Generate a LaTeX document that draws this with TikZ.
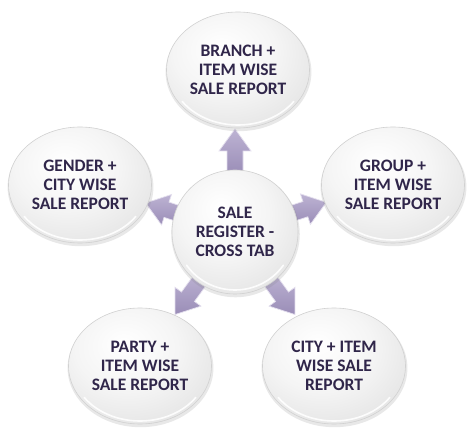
\documentclass[tikz,border=0pt]{standalone}
\usepackage{fontspec}
\setmainfont{Carlito}
\usetikzlibrary{calc,shadows,shapes.geometric}
\definecolor{txt}{HTML}{30264A}
\definecolor{lavA}{HTML}{BDB3D3}
\definecolor{lavB}{HTML}{9A8DB7}
\definecolor{lavE}{HTML}{E4DFEE}
\pgfdeclareradialshading{glossy}{\pgfpoint{-6bp}{10bp}}{%
  color(0bp)=(white);
  color(18bp)=(white!96!black);
  color(38bp)=(white!88!black);
  color(52bp)=(white!79!black);
  color(62bp)=(white!75!black);
  color(80bp)=(white!73!black)}
\tikzset{
  ball/.style={ellipse, shading=glossy, draw=white!82!black, line width=0.6pt,
    drop shadow={opacity=0.18, shadow xshift=0.5pt, shadow yshift=-2pt, shadow scale=1.02},
    align=center, text=txt, font=\bfseries\fontsize{17.5}{18.7}\selectfont, inner sep=0pt},
  outer/.style={ball, minimum width=143pt, minimum height=116pt},
  hub/.style={ball, minimum width=126pt, minimum height=124pt},
  pics/blockarrow/.style={code={
    \shade[top color=lavA, bottom color=lavB, draw=lavE, line width=0.7pt, line join=miter]
      (0,-8) -- (#1-22,-8) -- (#1-22,-16) -- (#1,0) -- (#1-22,16) -- (#1-22,8) -- (0,8) -- cycle;
  }}
}
\begin{document}
\begin{tikzpicture}[x=1pt,y=1pt]
\useasboundingbox (0,0) rectangle (475,448);
\fill[white] (0,0) rectangle (475,448);
\coordinate (c0) at (235,216);
% arrows
\pic[rotate=90]  at ($(c0)+(90:58)$)  {blockarrow=45};
\pic[rotate=18]  at ($(c0)+(18:50)$)  {blockarrow=46};
\pic[rotate=162] at ($(c0)+(162:50)$) {blockarrow=44};
\pic[rotate=234] at ($(c0)+(234:56)$) {blockarrow=46};
\pic[rotate=306] at ($(c0)+(306:56)$) {blockarrow=46};
% outer nodes
\node[outer] (top) at (238,378) {BRANCH +\\ITEM WISE\\SALE REPORT};
\node[outer] (lft) at (80,263) {GENDER +\\CITY WISE\\SALE REPORT};
\node[outer] (rgt) at (393,263) {GROUP +\\ITEM WISE\\SALE REPORT};
\node[outer] (bl) at (140,82) {PARTY +\\ITEM WISE\\SALE REPORT};
\node[outer] (br) at (334,82) {CITY + ITEM\\WISE SALE\\REPORT};
% hub
\node[hub] (c) at (c0) {SALE\\REGISTER -\\CROSS TAB};
% bottom rim highlights
\foreach \n/\rx/\ry in {top/68/55,lft/68/55,rgt/68/55,bl/68/55,br/68/55,c/59/58}{
  \draw[white, line width=1.6pt, opacity=0.9, line cap=round]
    ([shift={(215:\rx pt and \ry pt)}]\n.center) arc[start angle=215, end angle=325, x radius=\rx pt, y radius=\ry pt];
}
\end{tikzpicture}
\end{document}
